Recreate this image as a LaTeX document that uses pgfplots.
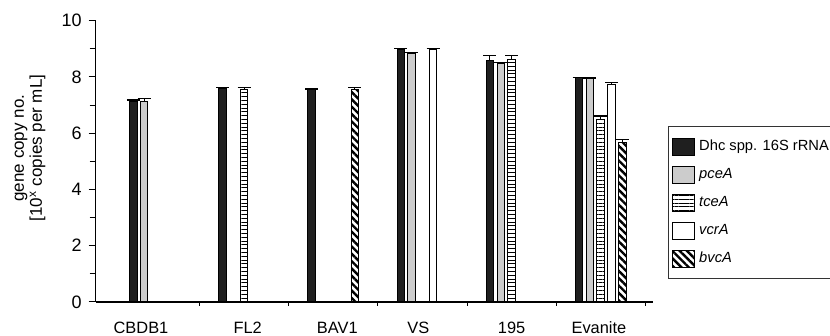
\documentclass[border=0pt]{standalone}
\usepackage{fontspec}
\setmainfont{Liberation Sans}
\usepackage{pgfplots}
\pgfplotsset{compat=1.18}
\usetikzlibrary{patterns.meta}
\begin{document}
\begin{tikzpicture}
\begin{axis}[
  scale only axis, clip=false,
  width=278.5pt, height=140.7pt,
  xmin=0.335, xmax=6.583, ymin=0, ymax=10,
  axis lines*=left,
  axis line style={line width=0.6pt, -},
  ybar=1.65pt, bar width=3.75pt,
  ytick={0,2,...,10}, minor ytick={1,3,...,9},
  tick align=outside,
  major tick length=3.5pt, minor tick length=3pt,
  tick style={line width=0.5pt, black},
  yticklabel style={font=\fontsize{9}{10}\selectfont},
  /pgf/number format/assume math mode=true,
  xtick={0.843,2.04,3.045,3.955,5.0,5.98},
  xticklabels={CBDB1,FL2,BAV1,VS,195,Evanite},
  xtick style={draw=none},
  xticklabel style={font=\fontsize{8.2}{10}\selectfont, yshift=-3pt},
  extra x ticks={1.5,2.5,3.5,4.5,5.5,6.5},
  extra x tick labels={},
  extra x tick style={xtick style={draw=black, line width=0.5pt}, major tick length=2pt},
  legend style={at={(1.027,0.624)}, anchor=north west,
    font=\fontsize{7.35}{8}\selectfont, draw=black!80, line width=0.5pt,
    inner xsep=2pt, inner ysep=4.5pt, row sep=3.4pt,
    cells={anchor=west}},
  legend image code/.code={\draw[#1] (0pt,-4.25pt) rectangle (11pt,4.25pt);},
  legend cell align=left,
]
\coordinate (O) at (rel axis cs:0,0);
\addplot[fill=black!88, draw=black, line width=0.5pt,
  error bars/.cd, y dir=plus, y explicit,
  error bar style={line width=0.5pt, black},
  error mark options={rotate=90, mark size=3.25pt, line width=0.6pt, black}]
  coordinates {(1,7.12) +- (0,0.06) (2,7.59) +- (0,0.02) (3,7.54) +- (0,0.03)
               (4,8.99) +- (0,0.02) (5,8.57) +- (0,0.20) (6,7.97) +- (0,0.01)};
\addplot[fill=black!20, draw=black, line width=0.5pt,
  error bars/.cd, y dir=plus, y explicit,
  error bar style={line width=0.5pt, black},
  error mark options={rotate=90, mark size=3.25pt, line width=0.6pt, black}]
  coordinates {(1,7.12) +- (0,0.10) (4,8.84) +- (0,0.03) (5,8.48) +- (0,0.02) (6,7.95) +- (0,0.01)};
\addplot[pattern={Lines[angle=0, distance=1.9pt, line width=0.45pt]}, draw=black, line width=0.5pt,
  error bars/.cd, y dir=plus, y explicit,
  error bar style={line width=0.5pt, black},
  error mark options={rotate=90, mark size=3.25pt, line width=0.6pt, black}]
  coordinates {(2,7.56) +- (0,0.07) (5,8.63) +- (0,0.12) (6,6.49) +- (0,0.12)};
\addplot[fill=white, draw=black, line width=0.5pt,
  error bars/.cd, y dir=plus, y explicit,
  error bar style={line width=0.5pt, black},
  error mark options={rotate=90, mark size=3.25pt, line width=0.6pt, black}]
  coordinates {(4,8.98) +- (0,0.03) (6,7.74) +- (0,0.06)};
\addplot[pattern={Lines[angle=-45, distance=2.6pt, line width=1.2pt]}, draw=black, line width=0.5pt,
  error bars/.cd, y dir=plus, y explicit,
  error bar style={line width=0.5pt, black},
  error mark options={rotate=90, mark size=3.25pt, line width=0.6pt, black}]
  coordinates {(3,7.54) +- (0,0.09) (6,5.66) +- (0,0.12)};
\legend{Dhc spp. 16S rRNA, \textit{pceA}, \textit{tceA}, \textit{vcrA}, \textit{bvcA}}
\node[rotate=90, align=center, font=\fontsize{8.5}{9}\selectfont] at (axis description cs:-0.118,0.547)
  {gene copy no.\\{}[10\textsuperscript{x} copies per mL]};
\end{axis}
\pgfresetboundingbox
\path ([shift={(-47.85pt,-17pt)}]O) rectangle ([shift={(367.15pt,151pt)}]O);
\end{tikzpicture}
\end{document}
